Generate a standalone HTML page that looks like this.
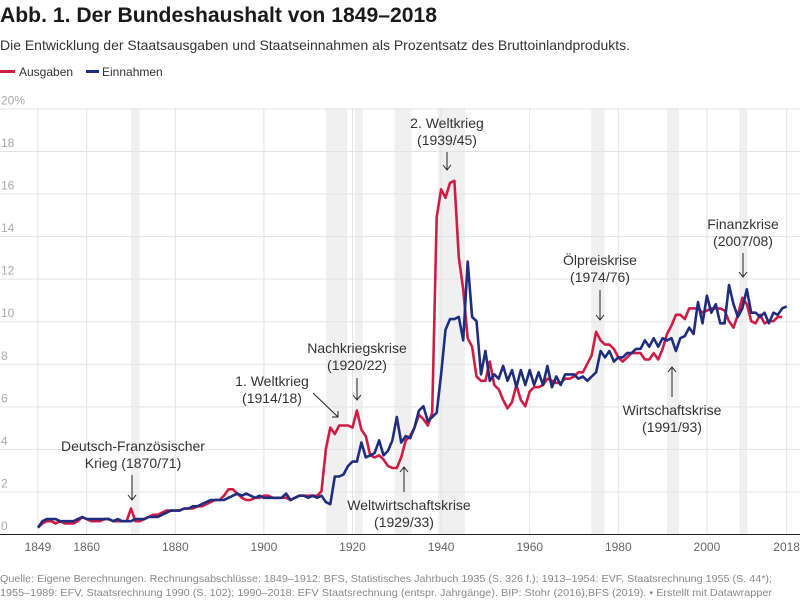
<!DOCTYPE html>
<html><head><meta charset="utf-8"><style>
html,body{margin:0;padding:0;background:#fff;}
svg{display:block;font-family:"Liberation Sans",sans-serif;}
</style></head><body>
<svg id="s" width="800" height="600" viewBox="0 0 800 600" xmlns="http://www.w3.org/2000/svg">
<text x="0" y="22" font-size="21" font-weight="bold" fill="#1a1a1a" textLength="437" lengthAdjust="spacingAndGlyphs">Abb. 1. Der Bundeshaushalt von 1849–2018</text>
<text x="0" y="50" font-size="14" fill="#333" textLength="630" lengthAdjust="spacingAndGlyphs">Die Entwicklung der Staatsausgaben und Staatseinnahmen als Prozentsatz des Bruttoinlandprodukts.</text>
<rect x="0" y="70" width="15" height="3" fill="#d01c45"/>
<text x="19" y="76" font-size="12" fill="#333">Ausgaben</text>
<rect x="86" y="70" width="13" height="3" fill="#1f2d7f"/>
<text x="102" y="76" font-size="12" fill="#333">Einnahmen</text>
<g id="bands" fill="#f0f0f0"></g>
<g id="grid" stroke="#e3e3e3" stroke-width="1"></g>
<g id="labels"></g>
<line x1="0" y1="534.5" x2="800" y2="534.5" stroke="#222" stroke-width="1"/>
<path id="red" fill="none" stroke="#d01c45" stroke-width="2.6" stroke-linejoin="round"/>
<path id="blue" fill="none" stroke="#1f2d7f" stroke-width="2.6" stroke-linejoin="round"/>
<g font-size="14" fill="#333" text-anchor="middle">
<text x="133" y="451">Deutsch-Französischer</text><text x="133" y="468">Krieg (1870/71)</text>
<text x="272" y="386">1. Weltkrieg</text><text x="272" y="403">(1914/18)</text>
<text x="357" y="353">Nachkriegskrise</text><text x="357" y="370">(1920/22)</text>
<text x="409" y="510">Weltwirtschaftskrise</text><text x="404" y="527">(1929/33)</text>
<text x="447" y="128">2. Weltkrieg</text><text x="447" y="145">(1939/45)</text>
<text x="600" y="265">Ölpreiskrise</text><text x="600" y="282">(1974/76)</text>
<text x="672" y="415">Wirtschaftskrise</text><text x="672" y="432">(1991/93)</text>
<text x="743" y="229">Finanzkrise</text><text x="743" y="246">(2007/08)</text>
</g>
<g stroke="#222" stroke-width="1" fill="none">
<path d="M132 475V500M128 495L132 500L136 495"/>
<path d="M313 393L338 417M332 417L338 417L338 411"/>
<path d="M357 378V400M353 395L357 400L361 395"/>
<path d="M404 492V467M400 472L404 467L408 472"/>
<path d="M447 152V170M443 165L447 170L451 165"/>
<path d="M600 290V320M596 315L600 320L604 315"/>
<path d="M672 397V367M668 372L672 367L676 372"/>
<path d="M743 253V277M739 272L743 277L747 272"/>
</g>
<g font-size="10.5" fill="#888">
<text x="0" y="582" textLength="772" lengthAdjust="spacingAndGlyphs">Quelle: Eigene Berechnungen. Rechnungsabschlüsse: 1849–1912: BFS, Statistisches Jahrbuch 1935 (S. 326 f.); 1913–1954: EVF, Staatsrechnung 1955 (S. 44*);</text>
<text x="0" y="596" textLength="772" lengthAdjust="spacingAndGlyphs">1955–1989: EFV, Staatsrechnung 1990 (S. 102); 1990–2018: EFV Staatsrechnung (entspr. Jahrgänge). BIP: Stohr (2016);BFS (2019). • Erstellt mit Datawrapper</text>
</g>
</svg>
<script>
var NS="http://www.w3.org/2000/svg";
function X(y){return 86.7+(y-1860)*4.43;}
function Y(v){return 534-v*21.28;}
function el(p,t,a,txt){var e=document.createElementNS(NS,t);for(var k in a)e.setAttribute(k,a[k]);if(txt)e.textContent=txt;document.getElementById(p).appendChild(e);}
[[1870,1871.9],[1914,1918.8],[1920.5,1922.3],[1929.5,1933.3],[1939.3,1945.4],[1973.9,1976.9],[1991,1993.7],[2007.3,2009.1]].forEach(function(b){el("bands","rect",{x:X(b[0]),y:108,width:X(b[1])-X(b[0]),height:426});});
for(var v=2;v<=20;v+=2){el("grid","line",{x1:0,x2:800,y1:Y(v)+0.5,y2:Y(v)+0.5});}
[1849,1860,1880,1900,1920,1940,1960,1980,2000,2018].forEach(function(y){el("grid","line",{x1:X(y),x2:X(y),y1:108,y2:534});el("labels","text",{x:X(y),y:551,"font-size":12,fill:"#666","text-anchor":"middle"},""+y);});
for(var v=0;v<=20;v+=2){el("labels","text",{x:1,y:Y(v)-4,"font-size":12,fill:"#aaa"},v==20?"20%":""+v);}
var R=[0.3,0.5,0.6,0.6,0.5,0.6,0.5,0.5,0.5,0.6,0.8,0.7,0.6,0.6,0.6,0.7,0.7,0.6,0.6,0.6,0.6,1.2,0.6,0.6,0.7,0.8,0.9,0.9,1.0,1.1,1.1,1.1,1.1,1.2,1.2,1.2,1.3,1.3,1.4,1.5,1.6,1.6,1.8,2.1,2.1,1.9,1.7,1.6,1.6,1.7,1.7,1.8,1.8,1.7,1.7,1.7,1.7,1.6,1.7,1.8,1.8,1.8,1.8,1.8,2.0,4.0,5.0,4.7,5.1,5.1,5.1,5.0,5.8,4.9,4.6,3.7,3.6,3.7,3.5,3.2,3.1,3.1,3.6,4.4,4.6,5.0,5.6,5.4,5.1,5.7,14.9,16.2,15.8,16.5,16.6,13.0,11.5,9.2,8.8,7.4,7.2,7.2,8.1,7.0,6.8,6.3,5.9,6.2,7.0,6.3,6.0,6.7,6.9,6.9,7.0,7.3,7.2,7.1,7.1,7.3,7.3,7.4,7.6,7.6,8.0,8.4,9.5,9.1,8.9,8.9,8.7,8.3,8.1,8.3,8.5,8.5,8.5,8.2,8.2,8.5,8.2,8.7,9.4,9.8,10.3,10.3,10.1,10.6,10.6,10.6,10.4,10.5,10.6,10.6,10.6,10.5,10.0,9.7,10.3,11.1,10.8,10.0,9.9,10.3,9.9,10.0,10.0,10.2,10.2];
var B=[0.3,0.6,0.7,0.7,0.7,0.6,0.6,0.6,0.6,0.7,0.8,0.7,0.7,0.7,0.7,0.7,0.7,0.6,0.7,0.6,0.6,0.6,0.7,0.7,0.7,0.8,0.8,0.8,0.9,1.0,1.1,1.1,1.1,1.2,1.2,1.3,1.3,1.4,1.5,1.6,1.6,1.6,1.6,1.7,1.8,1.9,1.8,1.9,1.8,1.7,1.8,1.7,1.7,1.7,1.7,1.7,1.9,1.6,1.7,1.8,1.8,1.7,1.8,1.7,1.8,1.5,1.4,2.7,2.7,2.8,3.2,3.4,3.4,4.3,3.6,3.7,3.8,4.4,3.7,3.9,4.4,5.5,4.3,4.6,4.5,5.0,5.8,6.0,5.3,5.5,5.7,7.5,9.6,10.1,10.1,10.2,9.1,12.8,10.2,10.0,7.5,8.6,7.2,7.5,7.3,7.9,7.2,7.7,6.9,7.7,7.0,7.7,7.0,7.6,7.0,7.9,6.9,7.4,7.0,7.5,7.5,7.5,7.3,7.4,7.2,7.4,7.6,8.6,8.3,8.6,8.1,8.3,8.3,8.5,8.5,8.7,8.7,9.1,8.8,9.2,8.8,9.2,9.1,9.2,8.6,9.2,9.3,9.7,9.4,10.9,9.9,11.2,10.4,10.8,9.9,9.9,11.7,10.8,10.2,10.6,11.5,10.4,10.4,10.2,10.4,9.9,10.4,10.3,10.6,10.7];
function P(a){return a.map(function(v,i){return (i?"L":"M")+X(1849+i).toFixed(1)+" "+Y(v).toFixed(1);}).join("");}
document.getElementById("red").setAttribute("d",P(R));
document.getElementById("blue").setAttribute("d",P(B));
</script>
</body></html>
